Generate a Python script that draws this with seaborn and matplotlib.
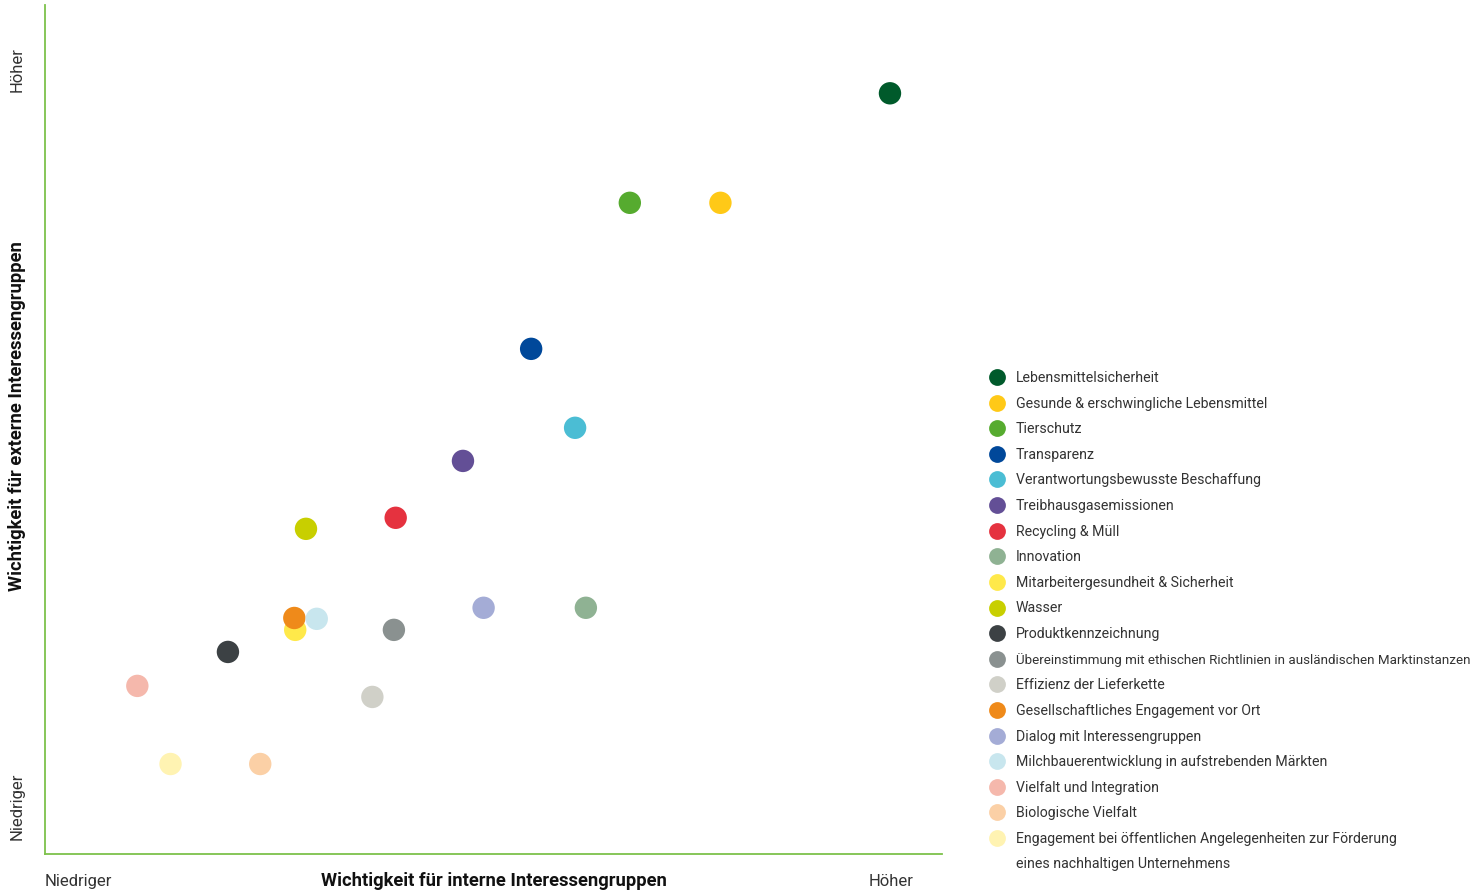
import pandas as pd
import matplotlib.pyplot as plt
import seaborn as sns

# topics, position (internal importance, external importance) on a 0-10 scale, colour
topics = [
    'Lebensmittelsicherheit',
    'Gesunde & erschwingliche Lebensmittel',
    'Tierschutz',
    'Transparenz',
    'Verantwortungsbewusste Beschaffung',
    'Treibhausgasemissionen',
    'Recycling & Müll',
    'Innovation',
    'Mitarbeitergesundheit & Sicherheit',
    'Wasser',
    'Produktkennzeichnung',
    'Übereinstimmung mit ethischen Richtlinien in ausländischen Marktinstanzen',
    'Effizienz der Lieferkette',
    'Gesellschaftliches Engagement vor Ort',
    'Dialog mit Interessengruppen',
    'Milchbauerentwicklung in aufstrebenden Märkten',
    'Vielfalt und Integration',
    'Biologische Vielfalt',
    'Engagement bei öffentlichen Angelegenheiten zur Förderung',
]
last_label_line2 = 'eines nachhaltigen Unternehmens'
internal = [9.42, 7.53, 6.52, 5.42, 5.91, 4.66, 3.91, 6.03, 2.79, 2.91,
            2.04, 3.89, 3.65, 2.78, 4.89, 3.03, 1.03, 2.40, 1.40]
external = [8.96, 7.67, 7.67, 5.95, 5.02, 4.63, 3.96, 2.90, 2.64, 3.83,
            2.38, 2.64, 1.85, 2.78, 2.90, 2.77, 1.98, 1.06, 1.06]
colors = ['#005a2b', '#ffc917', '#56ab2f', '#00489a', '#4bbdd4', '#634f96',
          '#e5323f', '#8fb293', '#ffe94a', '#c8cf00', '#3c4144', '#8a9190',
          '#d0d0c8', '#ef8a1a', '#a4acd6', '#c8e6ee', '#f5b8ac', '#fbd0a6',
          '#fff3b2']

df = pd.DataFrame({'topic': topics, 'internal': internal, 'external': external})
palette = dict(zip(topics, colors))

sns.set_style('white')
plt.rcParams['font.family'] = ['Roboto', 'DejaVu Sans']

fig = plt.figure(figsize=(14.83, 8.92), dpi=100)
ax = fig.add_axes([0.0303, 0.0426, 0.6049, 0.9518])

sns.scatterplot(data=df, x='internal', y='external', hue='topic', palette=palette,
                hue_order=topics, s=260, linewidth=0, ax=ax)

ax.set_xlim(0, 10)
ax.set_ylim(0, 10)
ax.set_xticks([])
ax.set_yticks([])
ax.set_xlabel('')
ax.set_ylabel('')
for side in ['top', 'right']:
    ax.spines[side].set_visible(False)
for side in ['left', 'bottom']:
    ax.spines[side].set_color('#7dc24b')
    ax.spines[side].set_linewidth(1.3)

# axis annotations
txt = dict(transform=ax.transAxes, color='#333333', fontsize=12)
ax.text(0.0, -0.032, 'Niedriger', ha='left', va='center', **txt)
ax.text(0.943, -0.032, 'Höher', ha='center', va='center', **txt)
ax.text(0.5, -0.032, 'Wichtigkeit für interne Interessengruppen', ha='center',
        va='center', fontweight='bold', transform=ax.transAxes, color='#111111',
        fontsize=13.2)
ax.text(-0.031, 0.924, 'Höher', ha='center', va='center', rotation=90, **txt)
ax.text(-0.031, 0.0565, 'Niedriger', ha='center', va='center', rotation=90, **txt)
ax.text(-0.031, 0.516, 'Wichtigkeit für externe Interessengruppen', ha='center',
        va='center', rotation=90, fontweight='bold', transform=ax.transAxes,
        color='#111111', fontsize=13.2)

sns.move_legend(ax, 'upper left', bbox_to_anchor=(0.659, 0.5905),
                bbox_transform=fig.transFigure, frameon=False, title=None,
                fontsize=10.2, labelspacing=0.82, markerscale=0.75,
                handletextpad=0.3, borderaxespad=0)
leg = ax.get_legend()
for t in leg.get_texts():
    t.set_color('#333333')
    if t.get_text().startswith('Übereinstimmung'):
        t.set_fontsize(9.6)

# second line of the last legend entry, placed under its first line
fig.canvas.draw()
last = leg.get_texts()[-1]
bb = last.get_window_extent().transformed(fig.transFigure.inverted())
fig.text(bb.x0, bb.y0 - 25 / 892, last_label_line2, fontsize=10.2,
         color='#333333', ha='left', va='bottom')

fig.savefig('out.png', dpi=100)
